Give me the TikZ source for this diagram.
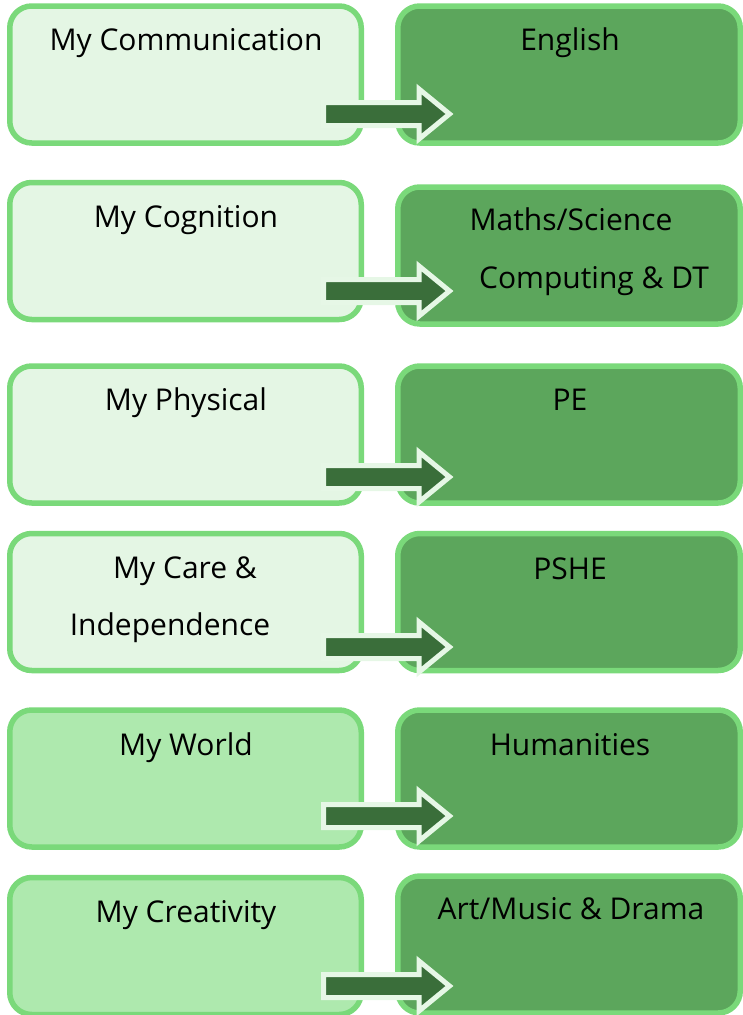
\documentclass[tikz,border=0pt]{standalone}
\usepackage{fontspec}
\setmainfont{Open Sans}
\usetikzlibrary{positioning}
\definecolor{mborder}{RGB}{122,217,122}
\definecolor{mpale}{RGB}{228,246,228}
\definecolor{mmint}{RGB}{174,233,174}
\definecolor{msubject}{RGB}{92,166,92}
\definecolor{marrow}{RGB}{58,110,58}
\definecolor{mglow}{RGB}{230,247,230}

\begin{document}
\begin{tikzpicture}[x=1pt, y=1pt,
    area/.style={draw=mborder, line width=5.5pt, rounded corners=22pt, minimum width=351.5pt, minimum height=137pt, inner sep=0pt},
    pale/.style={area, fill=mpale},
    mint/.style={area, fill=mmint},
    subject/.style={area, fill=msubject, minimum width=342.5pt},
    boxtext/.style={font=\fontsize{30}{36}\selectfont, anchor=base, inner sep=0pt},
    blockarrow/.pic={\draw [draw=mglow, fill=marrow, line width=5pt, line join=miter] (0, 11.5) -- (95.5, 11.5) -- (95.5, 25) -- (126, 0) -- (95.5, -25) -- (95.5, -11.5) -- (0, -11.5) -- cycle;}]
    \useasboundingbox (0, 0) rectangle (742, -1015);

    \node [pale] (comm) at (185.5, -74.5) {};
    \node [subject] (english) at (569, -74.5) {};
    \node [pale] (cog) at (185.5, -251) {};
    \node [subject] (maths) at (569, -255.5) {};
    \node [pale] (phys) at (185.5, -434.5) {};
    \node [subject] (pe) at (569, -434.5) {};
    \node [pale] (care) at (185.5, -602) {};
    \node [subject] (pshe) at (569, -602) {};
    \node [mint] (world) at (185.5, -778.5) {};
    \node [subject] (hum) at (569, -778.5) {};
    \node [mint] (creat) at (185.5, -946) {};
    \node [subject] (art) at (569, -944.5) {};

    \pic (commarrow) at (323.5, -114) {blockarrow};
    \pic (cogarrow) at (323.5, -291) {blockarrow};
    \pic (physarrow) at (323.5, -477) {blockarrow};
    \pic (carearrow) at (323.5, -647) {blockarrow};
    \pic (worldarrow) at (323.5, -816) {blockarrow};
    \pic (creatarrow) at (323.5, -986) {blockarrow};

    \node [boxtext] (commtext) at (186, -50) {My Communication};
    \node [boxtext] (englishtext) at (570, -50) {English};
    \node [boxtext] (cogtext) at (186, -227) {My Cognition};
    \node [boxtext] (mathstext) at (571, -230) {Maths/Science};
    \node [boxtext] (comptext) at (594, -288) {Computing \& DT};
    \node [boxtext] (phystext) at (186, -410) {My Physical};
    \node [boxtext] (petext) at (570, -410) {PE};
    \node [boxtext] (caretext) at (185, -578) {My Care \&};
    \node [boxtext] (indeptext) at (170, -635) {Independence};
    \node [boxtext] (pshetext) at (570, -579) {PSHE};
    \node [boxtext] (worldtext) at (186, -755) {My World};
    \node [boxtext] (humtext) at (570, -755) {Humanities};
    \node [boxtext] (creattext) at (186, -922) {My Creativity};
    \node [boxtext] (arttext) at (571, -919) {Art/Music \& Drama};
\end{tikzpicture}
\end{document}
